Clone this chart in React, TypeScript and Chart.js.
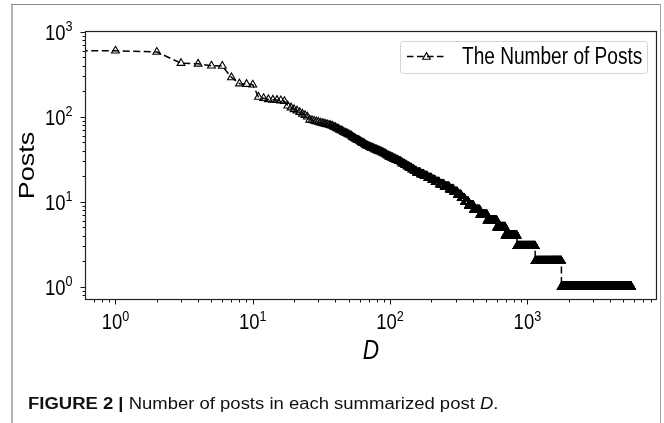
import React, { useEffect, useRef } from "react";
import { Chart, registerables } from "chart.js";

Chart.register(...registerables);

// ---------------- data ----------------
// Posts for ranks 0..92 (rank 0 is clipped on the log axis, as in the original)
const RANK_POSTS = [
  736, 597, 578, 427, 419, 398, 395, 290, 245, 242, 238, 171, 165, 160, 158, 157,
  155, 152, 135, 128, 122, 118, 113, 108, 104, 100,
  92, 91, 89, 88, 87, 85, 84, 83, 82, 81, 80, 79, 78,
  76, 75, 73, 72, 70, 69, 68, 66, 65, 64, 63, 62,
  61, 60, 58, 57, 56, 55, 54, 53, 53, 52, 51, 50, 49, 49, 48, 47,
  46, 46, 45, 45, 44, 44, 43, 43, 43, 42, 42, 41, 41, 41, 40, 40, 40, 39, 39, 39,
  38, 38, 38, 37, 37, 37,
];
// Beyond rank 92 the counts are integer plateaus: value and first rank of each plateau
const LEVEL_POSTS = [
  36, 35, 34, 33, 32, 31, 30, 29, 28, 27, 26, 25, 24, 23, 22, 21, 20, 19, 18, 17,
  16, 15, 14, 13, 12, 11, 10, 9, 8, 7, 6, 5, 4, 3, 2, 1,
];
const LEVEL_FIRST_RANK = [
  93, 95, 98, 102, 106, 110, 115, 120, 123, 128, 133, 138, 144, 150, 156, 167, 177,
  188, 201, 213, 229, 248, 270, 290, 310, 330, 350, 373, 406, 451, 510, 600, 690,
  840, 1140, 1770,
];
const LAST_RANK = 5700;

const X_MIN = 0.648;
const X_MAX = 8790;
const Y_MIN = 0.72;
const Y_MAX = 1020;
const X_TICK_EXPONENTS = [0, 1, 2, 3];
const Y_TICK_EXPONENTS = [0, 1, 2, 3];
const X_TITLE = "D";
const Y_TITLE = "Posts";
const SERIES_LABEL = "The Number of Posts";
const CAPTION_BOLD = "FIGURE 2 |";
const CAPTION_TEXT = " Number of posts in each summarized post ";
const CAPTION_ITALIC = "D";
const CAPTION_END = ".";

const LOG_CLIP = 1e-30; // non-positive x is clipped on a log axis (like matplotlib)

// ---------------- styling ----------------
const FONT = '"Liberation Sans", Arial, Helvetica, sans-serif';
const SQ = 0.84; // horizontal squeeze of the figure's text

function buildPoints() {
  const pts: { x: number; y: number }[] = [];
  RANK_POSTS.forEach((v, r) => pts.push({ x: r > 0 ? r : LOG_CLIP, y: v }));
  for (let i = 0; i < LEVEL_POSTS.length; i++) {
    const start = LEVEL_FIRST_RANK[i];
    const end = i + 1 < LEVEL_FIRST_RANK.length ? LEVEL_FIRST_RANK[i + 1] - 1 : LAST_RANK;
    for (let r = start; r <= end; r++) pts.push({ x: r, y: LEVEL_POSTS[i] });
  }
  return pts;
}

function textW(ctx: CanvasRenderingContext2D, t: string, font: string, sx: number) {
  ctx.font = font;
  return ctx.measureText(t).width * sx;
}
function sqText(ctx: CanvasRenderingContext2D, t: string, x: number, y: number, font: string, sx: number) {
  ctx.save();
  ctx.translate(x, y);
  ctx.scale(sx, 1);
  ctx.font = font;
  ctx.textAlign = "left";
  ctx.textBaseline = "alphabetic";
  ctx.fillText(t, 0, 0);
  ctx.restore();
}

const MAIN_F = `22px ${FONT}`;
const SUP_F = `15px ${FONT}`;
const SUP_RAISE = 8.5;

function drawPow(ctx: CanvasRenderingContext2D, exp: number, x: number, baseline: number, align: "center" | "right") {
  const wMain = textW(ctx, "10", MAIN_F, SQ);
  const wSup = textW(ctx, String(exp), SUP_F, SQ);
  const total = wMain + wSup;
  const left = align === "center" ? x - total / 2 : x - total;
  sqText(ctx, "10", left, baseline, MAIN_F, SQ);
  sqText(ctx, String(exp), left + wMain, baseline - SUP_RAISE, SUP_F, SQ);
}

function triangle(ctx: CanvasRenderingContext2D, x: number, y: number, r: number) {
  ctx.beginPath();
  let a = 0;
  ctx.moveTo(x + Math.sin(a) * r, y - Math.cos(a) * r);
  a += (2 * Math.PI) / 3;
  ctx.lineTo(x + Math.sin(a) * r, y - Math.cos(a) * r);
  a += (2 * Math.PI) / 3;
  ctx.lineTo(x + Math.sin(a) * r, y - Math.cos(a) * r);
  ctx.closePath();
  ctx.stroke();
}

const overlay = {
  id: "overlay",
  afterDraw(chart: any) {
    const { ctx, chartArea: a, scales } = chart;
    const xs = scales.x;
    const ys = scales.y;
    ctx.save();
    ctx.fillStyle = "#000";
    ctx.strokeStyle = "#111";

    // ticks
    ctx.lineWidth = 1;
    for (let e = -1; e <= 4; e++) {
      for (let m = 1; m <= 9; m++) {
        const v = m * Math.pow(10, e);
        if (v >= X_MIN && v <= X_MAX) {
          const px = Math.round(xs.getPixelForValue(v)) + 0.5;
          const len = m === 1 ? 4.5 : 2.5;
          ctx.beginPath();
          ctx.moveTo(px, a.bottom);
          ctx.lineTo(px, a.bottom + len);
          ctx.stroke();
        }
        if (v >= Y_MIN && v <= Y_MAX) {
          const py = Math.round(ys.getPixelForValue(v)) + 0.5;
          const len = m === 1 ? 4.5 : 2.5;
          ctx.beginPath();
          ctx.moveTo(a.left, py);
          ctx.lineTo(a.left - len, py);
          ctx.stroke();
        }
      }
    }
    // spines
    ctx.lineWidth = 1.2;
    ctx.strokeStyle = "#222";
    ctx.strokeRect(a.left + 0.5, a.top + 0.5, a.right - a.left - 1, a.bottom - a.top - 1);

    // tick labels
    X_TICK_EXPONENTS.forEach((e) => {
      const px = xs.getPixelForValue(Math.pow(10, e));
      drawPow(ctx, e, px, a.bottom + 29, "center");
    });
    Y_TICK_EXPONENTS.forEach((e) => {
      const py = ys.getPixelForValue(Math.pow(10, e));
      drawPow(ctx, e, a.left - 12.5, py + 7.8, "right");
    });

    // axis titles
    ctx.save();
    ctx.translate(34, (a.top + a.bottom) / 2);
    ctx.scale(SQ, 1);
    ctx.rotate(-Math.PI / 2);
    ctx.font = `27px ${FONT}`;
    ctx.textAlign = "center";
    ctx.textBaseline = "alphabetic";
    ctx.fillText(Y_TITLE, 0, 0);
    ctx.restore();

    ctx.save();
    ctx.translate((a.left + a.right) / 2, a.bottom + 59);
    ctx.scale(SQ, 1);
    ctx.font = `italic 27px ${FONT}`;
    ctx.textAlign = "center";
    ctx.textBaseline = "alphabetic";
    ctx.fillText(X_TITLE, 0, 0);
    ctx.restore();

    // legend
    const lx = 400.5, ly = 41.5, lw = 247, lh = 32, rr = 3;
    ctx.beginPath();
    ctx.moveTo(lx + rr, ly);
    ctx.arcTo(lx + lw, ly, lx + lw, ly + lh, rr);
    ctx.arcTo(lx + lw, ly + lh, lx, ly + lh, rr);
    ctx.arcTo(lx, ly + lh, lx, ly, rr);
    ctx.arcTo(lx, ly, lx + lw, ly, rr);
    ctx.closePath();
    ctx.fillStyle = "rgba(255,255,255,0.85)";
    ctx.fill();
    ctx.strokeStyle = "#d4d4d4";
    ctx.lineWidth = 1;
    ctx.stroke();

    ctx.strokeStyle = "#000";
    ctx.lineWidth = 1.5;
    ctx.setLineDash([6.5, 3.5]);
    ctx.beginPath();
    ctx.moveTo(407, 56.5);
    ctx.lineTo(446, 56.5);
    ctx.stroke();
    ctx.setLineDash([]);
    ctx.lineWidth = 1.1;
    triangle(ctx, 426.5, 57, 4.4);
    ctx.fillStyle = "#000";
    sqText(ctx, SERIES_LABEL, 462, 63.5, `23px ${FONT}`, 0.83);

    // figure frame
    ctx.strokeStyle = "#b4b4b4";
    ctx.lineWidth = 2;
    ctx.beginPath();
    ctx.moveTo(12, 4);
    ctx.lineTo(12, 423);
    ctx.stroke();
    ctx.strokeStyle = "#8a8a8a";
    ctx.lineWidth = 1;
    ctx.beginPath();
    ctx.moveTo(11, 4.5);
    ctx.lineTo(661, 4.5);
    ctx.stroke();
    ctx.strokeStyle = "#a0a0a0";
    ctx.beginPath();
    ctx.moveTo(660.5, 4);
    ctx.lineTo(660.5, 423);
    ctx.stroke();

    // caption
    const CS = 1.155;
    let cx = 28;
    const cy = 409;
    ctx.fillStyle = "#111";
    const parts: [string, string][] = [
      [CAPTION_BOLD, `bold 16px ${FONT}`],
      [CAPTION_TEXT, `16px ${FONT}`],
      [CAPTION_ITALIC, `italic 16px ${FONT}`],
      [CAPTION_END, `16px ${FONT}`],
    ];
    parts.forEach(([t, f]) => {
      sqText(ctx, t, cx, cy, f, CS);
      cx += textW(ctx, t, f, CS);
    });

    ctx.restore();
  },
};

export default function App() {
  const ref = useRef<HTMLCanvasElement | null>(null);
  useEffect(() => {
    if (!ref.current) return;
    const chart = new Chart(ref.current, {
      type: "line",
      data: {
        datasets: [
          {
            label: SERIES_LABEL,
            data: buildPoints(),
            borderColor: "#000",
            borderWidth: 1.5,
            borderDash: [7, 3.5],
            fill: false,
            tension: 0,
            pointStyle: "triangle",
            pointRadius: (c: any) => (c.dataIndex === 0 ? 0 : 4.5),
            pointBackgroundColor: "rgba(0,0,0,0)",
            pointBorderColor: "#000",
            pointBorderWidth: 1.1,
            clip: 0,
          } as any,
        ],
      },
      options: {
        responsive: false,
        animation: false,
        devicePixelRatio: 1,
        events: [],
        layout: { padding: { left: 85, top: 31, right: 7, bottom: 123 } },
        scales: {
          x: { type: "logarithmic", display: false, min: X_MIN, max: X_MAX },
          y: { type: "logarithmic", display: false, min: Y_MIN, max: Y_MAX },
        },
        plugins: { legend: { display: false }, tooltip: { enabled: false } },
      },
      plugins: [overlay],
    } as any);
    return () => chart.destroy();
  }, []);
  return (
    <div style={{ position: "fixed", left: 0, top: 0, width: 664, height: 423, background: "#fff" }}>
      <canvas ref={ref} width={664} height={423} style={{ display: "block" }} />
    </div>
  );
}
